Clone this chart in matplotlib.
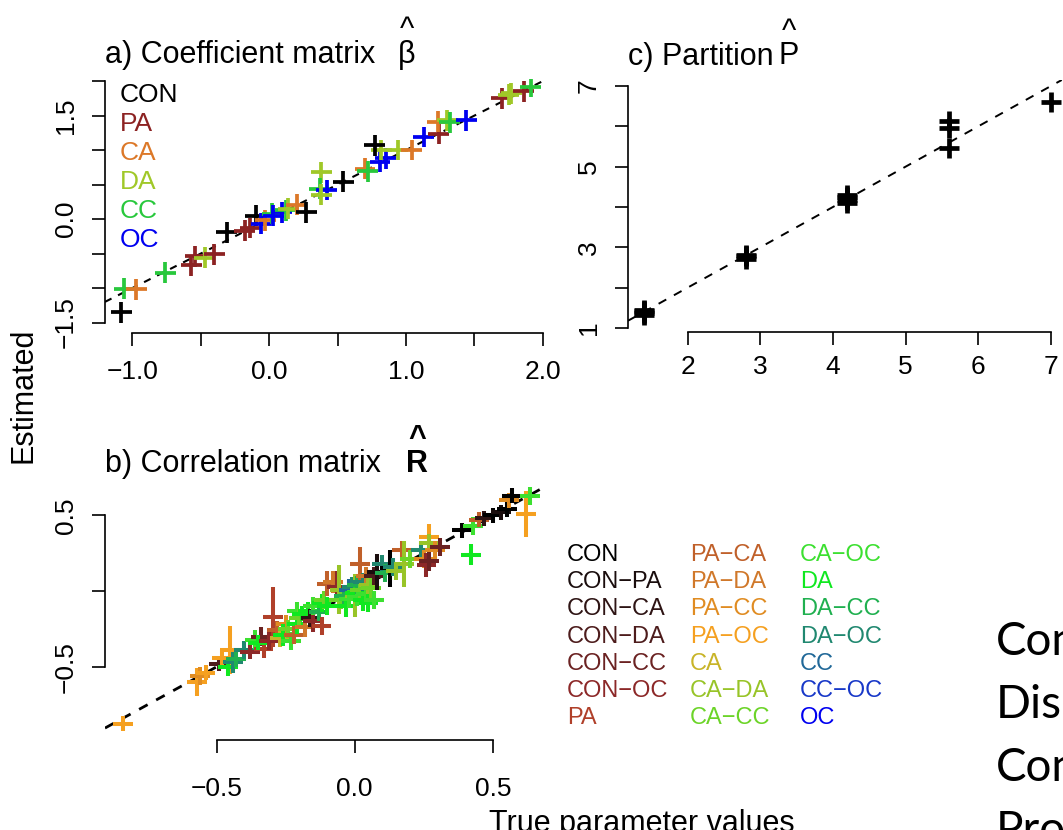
import matplotlib
matplotlib.use('Agg')
import matplotlib.pyplot as plt

W, H = 1063, 830

# ---------------- a) coefficient matrix ----------------
a_groups = ['CON', 'PA', 'CA', 'DA', 'CC', 'OC']
a_colors = ['#000000', '#8C2222', '#DC7828', '#A0C828', '#28C83C', '#0000F0']
a_true = [-1.08, -1.06, -0.97, -0.76, -0.57, -0.54, -0.47, -0.40, -0.31, -0.18,
          -0.14, -0.10, -0.06, -0.03, 0.02, 0.03, 0.09, 0.12, 0.14, 0.20,
          0.27, 0.38, 0.37, 0.42, 0.38, 0.54, 0.70, 0.72, 0.81, 0.85,
          0.82, 0.77, 0.94, 1.04, 1.13, 1.24, 1.23, 1.30, 1.32, 1.44,
          1.70, 1.75, 1.77, 1.86, 1.91]
a_est = [-1.35, -1.01, -1.02, -0.78, -0.67, -0.54, -0.56, -0.51, -0.19, -0.17,
         -0.13, 0.05, -0.07, -0.02, 0.08, 0.05, 0.10, 0.13, 0.15, 0.21,
         0.10, 0.68, 0.44, 0.42, 0.35, 0.54, 0.73, 0.69, 0.83, 0.88,
         1.00, 1.07, 1.00, 1.00, 1.19, 1.24, 1.41, 1.43, 1.40, 1.43,
         1.75, 1.80, 1.82, 1.85, 1.92]
a_grp = ['CON', 'CC', 'CA', 'CC', 'PA', 'PA', 'DA', 'PA', 'CON', 'PA',
         'PA', 'CON', 'OC', 'CA', 'CC', 'OC', 'OC', 'CC', 'DA', 'CA',
         'CON', 'DA', 'CC', 'OC', 'DA', 'CON', 'CA', 'CC', 'OC', 'OC',
         'DA', 'CON', 'DA', 'CA', 'OC', 'PA', 'CA', 'DA', 'CC', 'OC',
         'PA', 'DA', 'DA', 'PA', 'CC']
a_xticks = [-1.0, -0.5, 0.0, 0.5, 1.0, 1.5, 2.0]
a_xlabels = ['−1.0', '', '0.0', '', '1.0', '', '2.0']
a_yticks = [-1.5, -1.0, -0.5, 0.0, 0.5, 1.0, 1.5, 2.0]
a_ylabels = ['−1.5', '', '', '0.0', '', '', '1.5', '']

# ---------------- b) correlation matrix ----------------
b_labels = ['CON', 'CON−PA', 'CON−CA', 'CON−DA', 'CON−CC', 'CON−OC', 'PA',
            'PA−CA', 'PA−DA', 'PA−CC', 'PA−OC', 'CA', 'CA−DA', 'CA−CC',
            'CA−OC', 'DA', 'DA−CC', 'DA−OC', 'CC', 'CC−OC', 'OC']
b_colors = ['#000000', '#1A0D0D', '#2E1414', '#4D1C1C', '#6B2222', '#8C2828', '#B0402A',
            '#C0602A', '#D0782A', '#E08C22', '#F5A020', '#C8B428', '#98C428', '#6CD428',
            '#3CE030', '#10E820', '#20B050', '#208870', '#206898', '#1838C8', '#0000F0']
b_true = [-0.84, -0.57, -0.56, -0.54, -0.49, -0.48, -0.45, -0.46, -0.44, -0.43,
          -0.40, -0.38, -0.36, -0.34, -0.33, -0.35, -0.295, -0.31, -0.28, -0.27,
          -0.25, -0.26, -0.24, -0.23, -0.22, -0.21, -0.21, -0.20, -0.19, -0.18,
          -0.17, -0.16, -0.15, -0.15, -0.13, -0.12, -0.12, -0.11, -0.10, -0.10,
          -0.08, -0.065, -0.055, -0.05, -0.04, -0.03, -0.02, -0.02, -0.01, 0.00,
          0.00, 0.01, 0.01, 0.02, 0.02, 0.03, 0.03, 0.04, 0.04, 0.05,
          0.05, 0.06, 0.07, 0.07, 0.08, 0.10, 0.11, 0.128, 0.14, 0.15,
          0.17, 0.18, 0.20, 0.24, 0.25, 0.26, 0.27, 0.27, 0.27, 0.29,
          0.31, 0.39, 0.42, 0.43, 0.45, 0.47, 0.50, 0.53, 0.55, 0.56,
          0.57, 0.62, 0.635]
b_est = [-0.875, -0.60, -0.56, -0.54, -0.48, -0.44, -0.39, -0.50, -0.47, -0.45,
         -0.39, -0.40, -0.32, -0.30, -0.38, -0.34, -0.17, -0.33, -0.26, -0.31,
         -0.215, -0.29, -0.25, -0.33, -0.29, -0.13, -0.22, -0.18, -0.15, -0.24,
         -0.13, -0.18, -0.20, -0.10, -0.14, -0.23, -0.08, -0.06, 0.05, -0.10,
         0.06, 0.03, 0.01, -0.06, -0.03, -0.10, 0.01, -0.05, 0.03, -0.03,
         -0.01, -0.04, 0.04, 0.18, 0.01, -0.06, 0.06, 0.10, -0.02, 0.04,
         -0.08, 0.02, -0.06, 0.10, 0.125, 0.18, 0.12, 0.15, 0.16, 0.13,
         0.27, 0.18, 0.21, 0.27, 0.21, 0.17, 0.36, 0.32, 0.20, 0.27,
         0.29, 0.40, 0.24, 0.43, 0.47, 0.48, 0.50, 0.52, 0.54, 0.60,
         0.63, 0.51, 0.63]
b_half = [0.05, 0.09, 0.06, 0.05, 0.05, 0.06, 0.16, 0.06, 0.07, 0.05,
          0.06, 0.05, 0.06, 0.06, 0.06, 0.05, 0.20, 0.06, 0.06, 0.06,
          0.06, 0.07, 0.06, 0.06, 0.06, 0.06, 0.06, 0.06, 0.05, 0.06,
          0.06, 0.06, 0.07, 0.06, 0.06, 0.06, 0.06, 0.06, 0.08, 0.06,
          0.07, 0.10, 0.16, 0.06, 0.06, 0.07, 0.07, 0.06, 0.06, 0.14,
          0.06, 0.06, 0.06, 0.11, 0.06, 0.07, 0.06, 0.06, 0.06, 0.06,
          0.06, 0.07, 0.06, 0.06, 0.12, 0.06, 0.06, 0.12, 0.06, 0.06,
          0.06, 0.15, 0.06, 0.06, 0.06, 0.08, 0.08, 0.06, 0.07, 0.06,
          0.06, 0.05, 0.07, 0.06, 0.05, 0.05, 0.05, 0.05, 0.05, 0.05,
          0.05, 0.15, 0.06]
b_grp = ['PA−OC', 'PA−OC', 'PA−CC', 'PA−OC', 'CON−DA', 'PA−OC', 'PA−OC', 'DA', 'DA−OC', 'DA−CC',
         'DA−OC', 'CON−OC', 'CA−OC', 'CON−CC', 'PA', 'DA', 'PA', 'CON−OC', 'PA−CA', 'CA',
         'PA−CC', 'DA', 'CA−CC', 'CA−OC', 'PA−CA', 'CA−OC', 'DA', 'CA−CC', 'DA', 'PA−DA',
         'DA', 'CON−CA', 'CON−OC', 'CA−OC', 'DA−CC', 'PA', 'DA', 'CA−CC', 'PA−CA', 'DA',
         'PA−DA', 'CON−OC', 'CA−DA', 'CA−CC', 'DA−CC', 'DA', 'CC', 'CA−OC', 'DA−OC', 'CA−DA',
         'DA', 'CA−OC', 'DA−CC', 'PA−CA', 'CA−CC', 'DA', 'DA−OC', 'PA−DA', 'CA−OC', 'CA−DA',
         'DA', 'CA−CC', 'CA−OC', 'CON−DA', 'CON−PA', 'DA−OC', 'DA−CC', 'CON', 'DA−OC', 'CA−DA',
         'PA−CA', 'CA−DA', 'CA−CC', 'DA−OC', 'PA−CC', 'CON−OC', 'PA−OC', 'CA−DA', 'CON−CC', 'PA−CC',
         'CON−CC', 'CON', 'DA', 'CA−OC', 'PA−CA', 'CON−CA', 'CON', 'CON−PA', 'CON', 'PA−CC',
         'CON', 'PA−OC', 'CA−OC']
b_ticks = [-0.5, 0.0, 0.5]
b_xlabels = ['−0.5', '0.0', '0.5']
b_ylabels = ['−0.5', '', '0.5']

# ---------------- c) partition ----------------
c_true = [1.4, 1.4, 1.4, 1.4, 2.8, 2.8, 2.8, 4.2, 4.2, 4.2, 4.2, 5.6, 5.6, 5.6, 7.0]
c_est = [1.32, 1.37, 1.42, 1.45, 2.72, 2.78, 2.82, 4.10, 4.17, 4.24, 4.30, 5.47, 5.96, 6.14, 6.60]
c_xticks = [2, 3, 4, 5, 6, 7]
c_yticks = [1, 2, 3, 4, 5, 6, 7]
c_ylabels = ['1', '', '3', '', '5', '', '7']

side_words = ['Con', 'Dis', 'Con', 'Pro']

plt.rcParams['font.family'] = ['Liberation Sans', 'DejaVu Sans']
fig = plt.figure(figsize=(W / 100, H / 100), dpi=100)


def axes_px(l, t, r, b):
    return fig.add_axes([l / W, 1 - b / H, (r - l) / W, (b - t) / H])


def r_style(ax, xb, yb, xoff, xpad, ypad):
    for s in ['top', 'right']:
        ax.spines[s].set_visible(False)
    ax.spines['left'].set_bounds(*yb)
    ax.spines['bottom'].set_bounds(*xb)
    ax.spines['bottom'].set_position(('outward', xoff * 0.72))
    for s in ['left', 'bottom']:
        ax.spines[s].set_linewidth(1.2)
    ax.tick_params(direction='out', length=9.5, width=1.2, labelsize=19)
    ax.tick_params(axis='x', pad=xpad)
    ax.tick_params(axis='y', pad=ypad, labelrotation=90)
    for lbl in ax.get_yticklabels():
        lbl.set_va('center')
    ax.patch.set_alpha(0)


def dashed_diag(ax, lw, d):
    ax.axline((0, 0), slope=1, color='black', lw=lw, dashes=(d, d), zorder=1)


def hat_symbol(x, base, sym, bold=False):
    # symbol with a floating hat above it, kept as one text
    fig.text(x / W, 1 - (base + 6.5) / H, '^\n' + sym, fontsize=22, ha='center',
             va='bottom', linespacing=0.75, multialignment='center',
             fontweight='bold' if bold else 'normal')


# panel a
ax_a = axes_px(105, 79, 547, 326)
ax_a.set_xlim(-1.2, 2.03)
ax_a.set_ylim(-1.55, 2.03)
dashed_diag(ax_a, 1.5, 3.5)
a_pt_col = [a_colors[a_groups.index(g)] for g in a_grp]
ax_a.scatter(a_true, a_est, c=a_pt_col, marker='+', s=15 ** 2, linewidths=2.7, zorder=2)
ax_a.set_xticks(a_xticks)
ax_a.set_xticklabels(a_xlabels)
ax_a.set_yticks(a_yticks)
ax_a.set_yticklabels(a_ylabels)
r_style(ax_a, (-1.0, 2.0), (-1.5, 2.0), 7, 10, 10)
for i, (g, c) in enumerate(zip(a_groups, a_colors)):
    fig.text(120 / W, 1 - (95 + 29 * i) / H, g, color=c, fontsize=19, va='center')
fig.text(105 / W, 1 - 63 / H, 'a) Coefficient matrix', fontsize=22, va='baseline')
hat_symbol(407, 63, 'β')

# panel b
ax_b = axes_px(105, 482, 548, 732)
ax_b.set_xlim(-0.904, 0.70)
ax_b.set_ylim(-0.93, 0.72)
dashed_diag(ax_b, 2.0, 3.5)
hw = 0.036
for x, y, e, g in zip(b_true, b_est, b_half, b_grp):
    col = b_colors[b_labels.index(g)]
    ax_b.plot([x, x], [y - e, y + e], color=col, lw=2.9, solid_capstyle='butt', zorder=2)
    ax_b.plot([x - hw, x + hw], [y, y], color=col, lw=2.9, solid_capstyle='butt', zorder=2)
ax_b.set_xticks(b_ticks)
ax_b.set_xticklabels(b_xlabels)
ax_b.set_yticks(b_ticks)
ax_b.set_yticklabels(b_ylabels)
r_style(ax_b, (-0.5, 0.5), (-0.5, 0.5), 8, 17, 10)
fig.text(105 / W, 1 - 472 / H, 'b) Correlation matrix', fontsize=22, va='baseline')
hat_symbol(417, 472, 'R', bold=True)

# legend b, three columns of seven
col_x = [567, 690, 800]
for i, (lab, c) in enumerate(zip(b_labels, b_colors)):
    fig.text(col_x[i // 7] / W, 1 - (555 + 27.2 * (i % 7)) / H, lab, color=c,
             fontsize=17, va='center')

# panel c
ax_c = axes_px(628, 80, 1069, 328)
ax_c.set_xlim(1.18, 7.25)
ax_c.set_ylim(1.0, 7.15)
dashed_diag(ax_c, 1.4, 4.5)
ax_c.plot(c_true, c_est, '+', color='black', ms=14, mew=3.4, zorder=2)
ax_c.set_xticks(c_xticks)
ax_c.set_xticklabels([str(v) for v in c_xticks])
ax_c.set_yticks(c_yticks)
ax_c.set_yticklabels(c_ylabels)
r_style(ax_c, (2, 7), (1, 7), 4.5, 7, 10)
fig.text(628 / W, 1 - 65 / H, 'c) Partition', fontsize=22, va='baseline')
hat_symbol(789, 65, 'P')

# shared axis titles
fig.text(24 / W, 1 - 395 / H, 'Estimated', fontsize=22, rotation=90, va='center', ha='center')
fig.text(489 / W, 1 - 832 / H, 'True parameter values', fontsize=22, va='baseline')

# slide text cut off at the right edge, as in the screenshot
for i, w in enumerate(side_words):
    fig.text(996 / W, 1 - (642 + 63 * i) / H, w, fontsize=33, family='Lato', va='center')

fig.savefig('out.png', dpi=100)
